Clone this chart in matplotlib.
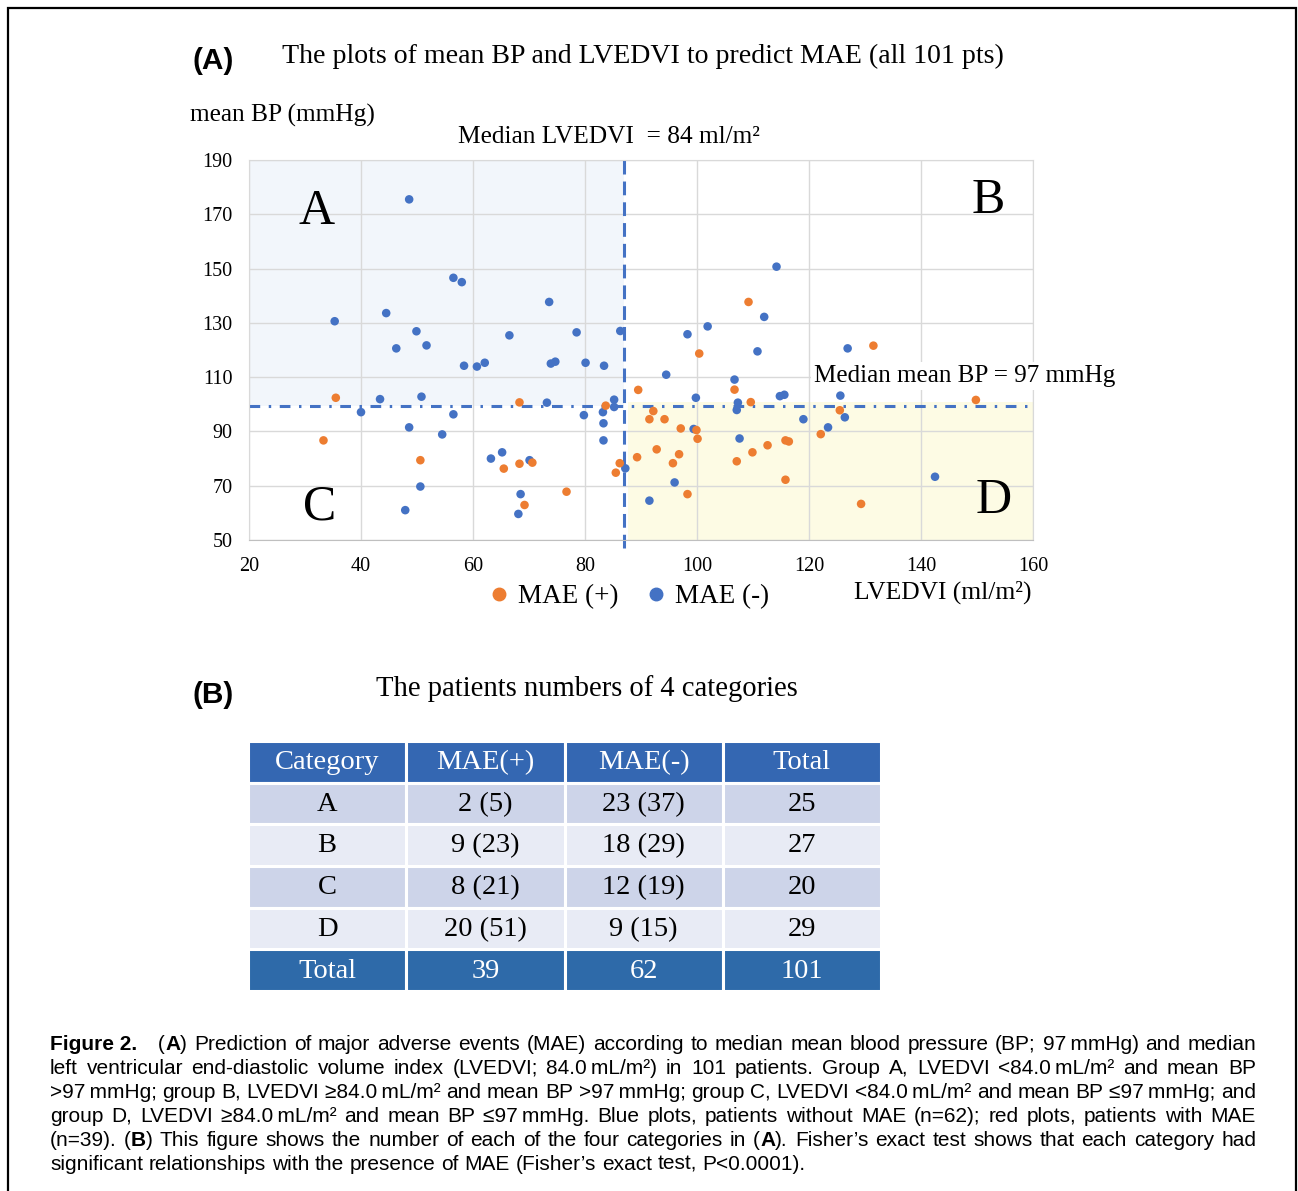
import re
import matplotlib
matplotlib.use("Agg")
import matplotlib.pyplot as plt
from matplotlib.lines import Line2D
from matplotlib.patches import Rectangle

W, H = 1298, 1191
SERIF = ["Liberation Serif", "DejaVu Serif"]
SANS = ["Liberation Sans", "DejaVu Sans"]
BLUE = "#4472c4"
ORANGE = "#ed7d31"

# ---- data (LVEDVI ml/m2, mean BP mmHg) ----
neg_lvedvi = [48.6, 35.3, 44.5, 56.5, 58.0, 73.6, 49.9, 46.3, 51.7, 66.5, 78.5, 86.3,
              58.4, 60.7, 62.1, 73.9, 74.7, 80.1, 83.4, 43.4, 50.8, 73.2, 85.2,
              85.2, 40.0, 56.5, 79.8, 83.2, 48.6, 54.5, 83.3, 83.3, 63.2, 65.2, 70.1,
              50.6, 47.9, 68.5, 68.1,
              114.2, 98.3, 101.9, 112.0, 110.8, 126.9, 94.5, 106.7, 99.8, 114.8, 115.6,
              125.6, 107.3,
              107.1, 126.4, 119.0, 123.4, 99.4, 107.6, 87.2, 96.0, 91.5, 142.5]
neg_bp = [175.5, 130.6, 133.6, 146.6, 145.0, 137.7, 126.9, 120.6, 121.7, 125.4, 126.5, 127.0,
          114.2, 113.9, 115.3, 115.0, 115.7, 115.3, 114.2, 101.9, 102.8, 100.6, 101.7,
          99.0, 97.1, 96.3, 96.0, 97.1, 91.5, 88.9, 93.0, 86.7, 80.0, 82.3, 79.4,
          69.7, 61.0, 66.9, 59.6,
          150.7, 125.8, 128.7, 132.2, 119.5, 120.6, 110.9, 109.1, 102.4, 103.0, 103.5,
          103.2, 100.6,
          97.9, 95.2, 94.5, 91.5, 90.9, 87.4, 76.4, 71.2, 64.5, 73.3]

pos_lvedvi = [35.5, 68.3, 83.7, 33.3, 50.6, 65.5, 68.3, 70.6, 69.2, 76.7, 86.2, 85.5,
              89.3, 89.5, 109.2, 131.5, 100.4, 106.7, 109.6, 149.8, 92.2, 91.5, 94.2,
              97.1, 99.9, 100.1, 92.8, 96.8, 95.7, 98.3, 107.1, 109.9, 112.6, 115.8,
              116.4, 115.8, 122.1, 125.5, 129.3]
pos_bp = [102.4, 100.7, 99.5, 86.7, 79.4, 76.3, 78.1, 78.5, 62.9, 67.8, 78.3, 74.8,
          80.5, 105.3, 137.7, 121.6, 118.7, 105.4, 100.8, 101.6, 97.5, 94.5, 94.5,
          91.1, 90.5, 87.3, 83.4, 81.6, 78.3, 66.9, 79.0, 82.3, 84.9, 86.7,
          86.3, 72.2, 89.0, 97.8, 63.3]

# cut lines as drawn in the figure
cut_lvedvi = 87.0
cut_bp = 99.5

# ---- table ----
col_labels = ["Category", "MAE(+)", "MAE(-)", "Total"]
row_cats = ["A", "B", "C", "D"]
mae_pos = ["2 (5)", "9 (23)", "8 (21)", "20 (51)"]
mae_neg = ["23 (37)", "18 (29)", "12 (19)", "9 (15)"]
row_totals = ["25", "27", "20", "29"]
total_row = ["Total", "39", "62", "101"]

caption = [
    "**Figure\u00a02.**\u2003(**A**) Prediction of major adverse events (MAE) according to median mean blood pressure (BP; 97\u2009mmHg) and median",
    "left ventricular end-diastolic volume index (LVEDVI; 84.0\u2009mL/m²) in 101 patients. Group A, LVEDVI <84.0\u2009mL/m² and mean BP",
    ">97\u2009mmHg; group B, LVEDVI ≥84.0\u2009mL/m² and mean BP >97\u2009mmHg; group C, LVEDVI <84.0\u2009mL/m² and mean BP ≤97\u2009mmHg; and",
    "group D, LVEDVI ≥84.0\u2009mL/m² and mean BP ≤97\u2009mmHg. Blue plots, patients without MAE (n=62); red plots, patients with MAE",
    "(n=39). (**B**) This figure shows the number of each of the four categories in (**A**). Fisher’s exact test shows that each category had",
    "significant relationships with the presence of MAE (Fisher’s exact test, P<0.0001).",
]


def fx(x):
    return x / W


def fy(y):
    return 1 - y / H


fig = plt.figure(figsize=(W / 100, H / 100), dpi=100)
fig.patch.set_facecolor("white")

# outer frame
fig.add_artist(Rectangle((fx(8), fy(1200)), fx(1296) - fx(8), fy(8) - fy(1200),
                         transform=fig.transFigure, fill=False, lw=1.6,
                         edgecolor="black", clip_on=False))

# ---------------- panel A ----------------
ax = fig.add_axes([fx(249), fy(540), fx(1033) - fx(249), fy(160) - fy(540)])
xmin, xmax, ymin, ymax = 20, 160, 50, 190
ax.set_xlim(xmin, xmax)
ax.set_ylim(ymin, ymax)
ax.set_xticks(range(20, 161, 20))
ax.set_yticks(range(50, 191, 20))
ax.set_axisbelow(True)
ax.grid(True, color="#d9d9d9", lw=1.0)
ax.tick_params(length=0, labelsize=14.5)
ax.tick_params(axis="x", pad=12)
ax.tick_params(axis="y", pad=12)
for lab in ax.get_xticklabels() + ax.get_yticklabels():
    lab.set_family(SERIF)
for s in ax.spines.values():
    s.set_color("#d9d9d9")
ax.spines["bottom"].set_color("#bfbfbf")

# quadrant shading
ax.add_patch(Rectangle((xmin, cut_bp), cut_lvedvi - xmin, ymax - cut_bp,
                       facecolor="#f2f6fb", edgecolor="none", zorder=0.1))
ax.add_patch(Rectangle((cut_lvedvi + 0.6, ymin), xmax - cut_lvedvi - 0.6, cut_bp + 1.5 - ymin,
                       facecolor="#fdfbe4", edgecolor="none", zorder=0.1))

ax.scatter(neg_lvedvi, neg_bp, s=38, color=BLUE, edgecolors="none", zorder=3)
ax.scatter(pos_lvedvi, pos_bp, s=38, color=ORANGE, edgecolors="none", zorder=4)

ax.axvline(cut_lvedvi, ymin=-0.02, ymax=1, color=BLUE, lw=2.2, dashes=(4.5, 2.3),
           clip_on=False, zorder=2)
ax.plot([xmin, xmax - 0.5], [cut_bp, cut_bp], color=BLUE, lw=2.2,
        dashes=(3.5, 2.8, 0.8, 2.8), zorder=2)

for q, qx, qy in [("A", 32, 171), ("B", 152, 175), ("C", 32.7, 62), ("D", 152.9, 64.5)]:
    ax.text(qx, qy, q, family=SERIF, fontsize=36, ha="center", va="center", zorder=5)

ax.text(120.9, 110.4, "Median mean BP = 97 mmHg", family=SERIF, fontsize=18.1,
        ha="left", va="center", zorder=5, clip_on=False,
        bbox=dict(facecolor="white", edgecolor="none", pad=2))

fig.text(fx(192), fy(69), "(A)", family=SANS, fontweight="bold", fontsize=21.5,
         ha="left", va="baseline")
fig.text(fx(282), fy(63), "The plots of mean BP and LVEDVI to predict MAE (all 101 pts)",
         family=SERIF, fontsize=20.1, ha="left", va="baseline")
fig.text(fx(190), fy(122), "mean BP (mmHg)", family=SERIF, fontsize=18.3,
         ha="left", va="baseline")
fig.text(fx(458), fy(143), "Median LVEDVI  = 84 ml/m²", family=SERIF, fontsize=18.3,
         ha="left", va="baseline")
fig.text(fx(1031), fy(599), "LVEDVI (ml/m²)", family=SERIF, fontsize=18.4,
         ha="right", va="baseline")

handles = [Line2D([], [], ls="none", marker="o", ms=9, color=ORANGE),
           Line2D([], [], ls="none", marker="o", ms=9, color=BLUE)]
fig.legend(handles, ["MAE (+)", "MAE (-)"], loc="center",
           bbox_to_anchor=(fx(627), fy(597)), ncol=2, frameon=False,
           handletextpad=0.2, columnspacing=0.9, handlelength=1.0,
           prop={"family": SERIF, "size": 19.5})

# ---------------- panel B ----------------
fig.text(fx(192), fy(703), "(B)", family=SANS, fontweight="bold", fontsize=21.5,
         ha="left", va="baseline")
fig.text(fx(587), fy(696), "The patients numbers of 4 categories", family=SERIF,
         fontsize=20.6, ha="center", va="baseline")

axt = fig.add_axes([fx(248), fy(991), fx(881) - fx(248), fy(741) - fy(991)])
axt.set_xlim(0, 4)
axt.set_ylim(6, 0)
axt.axis("off")

rows = [col_labels] + [list(r) for r in zip(row_cats, mae_pos, mae_neg, row_totals)] + [total_row]
for i, row in enumerate(rows):
    if i == 0:
        fc, tc = "#3467b2", "white"
    elif i == len(rows) - 1:
        fc, tc = "#2e6aa9", "white"
    elif i % 2 == 1:
        fc, tc = "#cdd4e9", "black"
    else:
        fc, tc = "#e8ebf5", "black"
    for j, val in enumerate(row):
        axt.add_patch(Rectangle((j, i), 1, 1, facecolor=fc, edgecolor="white", lw=2.2))
        axt.text(j + 0.5, i + 0.52, val, family=SERIF, fontsize=20.5, color=tc,
                 ha="center", va="center")

# ---------------- caption (justified) ----------------
CAP_SIZE = 15
fig.canvas.draw()
renderer = fig.canvas.get_renderer()
x_left, x_right = 50, 1256
space = fig.text(0, 0, "a a", family=SANS, fontsize=CAP_SIZE)
sw = space.get_window_extent(renderer).width
space.set_text("aa")
sw -= space.get_window_extent(renderer).width
space.remove()
for li, line in enumerate(caption):
    base = fy(1050 + 24 * li)
    words = []
    for w in line.split(" "):
        parts = [p for p in re.split(r"(\*\*.*?\*\*)", w) if p]
        arts = []
        for p in parts:
            bold = p.startswith("**")
            t = fig.text(0, base, p.strip("*"), family=SANS, fontsize=CAP_SIZE,
                         fontweight="bold" if bold else "normal", va="baseline")
            arts.append((t, t.get_window_extent(renderer).width))
        words.append(arts)
    widths = [sum(a[1] for a in wd) for wd in words]
    if li < len(caption) - 1:
        gap = max((x_right - x_left - sum(widths)) / (len(words) - 1), sw * 0.6)
    else:
        gap = sw
    x = x_left
    for wd in words:
        for t, tw in wd:
            t.set_x(fx(x))
            x += tw
        x += gap

fig.savefig("out.png", dpi=100, facecolor="white")
